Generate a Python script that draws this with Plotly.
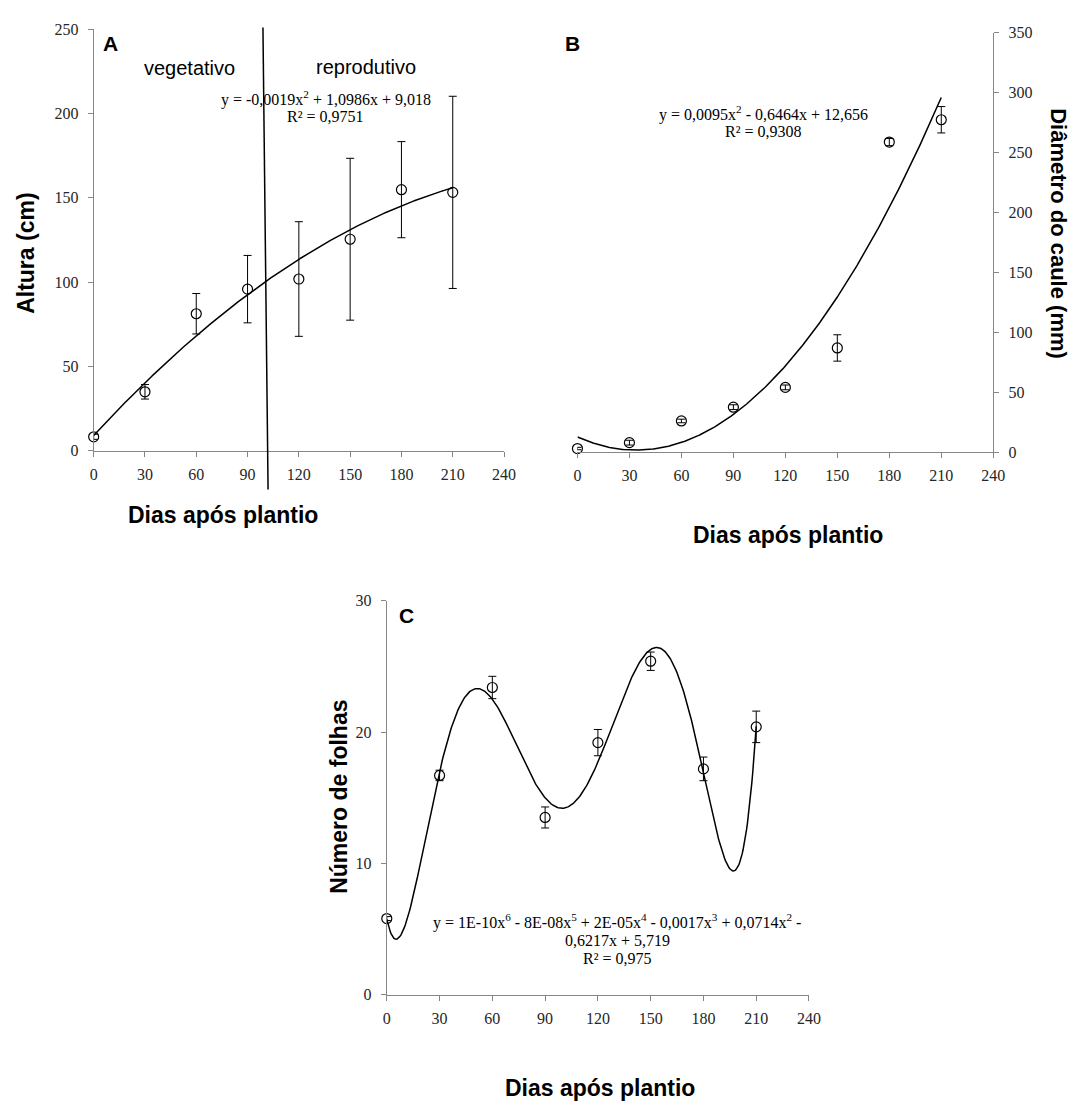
import numpy as np
import plotly.graph_objects as go

# ---------------- data ----------------
dias = [0, 30, 60, 90, 120, 150, 180, 210]
x_ticks = [0, 30, 60, 90, 120, 150, 180, 210, 240]

altura = [8.2, 34.9, 81.2, 95.8, 101.8, 125.4, 154.8, 153.2]
altura_err = [1.5, 4.3, 12.0, 20.0, 34.0, 48.0, 28.5, 57.0]

diametro = [3.0, 7.9, 26.0, 37.5, 54.0, 86.9, 258.7, 277.3]
diametro_err = [1.0, 2.0, 1.5, 2.0, 2.0, 11.0, 3.0, 11.0]

folhas = [5.8, 16.7, 23.4, 13.5, 19.2, 25.4, 17.2, 20.4]
folhas_err = [0.15, 0.4, 0.85, 0.8, 1.0, 0.7, 0.9, 1.2]

coef_altura = [-0.0019, 1.0986, 9.018]
coef_diametro = [0.0095, -0.6464, 12.656]

eq_altura = ["y = -0,0019x<sup>2</sup> + 1,0986x + 9,018", "R² = 0,9751"]
eq_diametro = ["y = 0,0095x<sup>2</sup> - 0,6464x + 12,656", "R² = 0,9308"]
eq_folhas = ["y = 1E-10x<sup>6</sup> - 8E-08x<sup>5</sup> + 2E-05x<sup>4</sup> - 0,0017x<sup>3</sup> + 0,0714x<sup>2</sup> -",
             "0,6217x + 5,719", "R² = 0,975"]

# ---------------- layout geometry (pixels) ----------------
W, H = 1089, 1115
A_X, A_Y = (91, 507.5), (449.5, 21.5)
B_X, B_Y = (582, 1004), (451, 25)
C_X, C_Y = (388.5, 817), (1002, 602)


def fx(p):
    return p / W


def fy(p):
    return 1 - p / H


def dom_x(r):
    return [fx(r[0]), fx(r[1])]


def dom_y(r):
    return [fy(r[0]), fy(r[1])]


SERIF = "Liberation Serif, Times New Roman, serif"
SANS = "Liberation Sans, Arial, sans-serif"
AXC = "#868686"

fig = go.Figure()


def err(vals):
    return dict(type="data", array=vals, visible=True, color="black", thickness=1, width=4)


mk = dict(symbol="circle-open", size=10, color="black", line=dict(width=1.2, color="black"))

xd = np.linspace(0, 210, 421)

# Panel A
fig.add_trace(go.Scatter(x=xd, y=np.polyval(coef_altura, xd), mode="lines",
                         line=dict(color="black", width=1.5), xaxis="x", yaxis="y",
                         showlegend=False, hoverinfo="skip"))
fig.add_trace(go.Scatter(x=dias, y=altura, mode="markers", marker=mk, error_y=err(altura_err),
                         xaxis="x", yaxis="y", cliponaxis=False, showlegend=False))

# Panel B
fig.add_trace(go.Scatter(x=xd, y=np.polyval(coef_diametro, xd), mode="lines",
                         line=dict(color="black", width=1.5), xaxis="x2", yaxis="y2",
                         showlegend=False, hoverinfo="skip"))
fig.add_trace(go.Scatter(x=dias, y=diametro, mode="markers", marker=mk, error_y=err(diametro_err),
                         xaxis="x2", yaxis="y2", cliponaxis=False, showlegend=False))

# Panel C (6th degree polynomial trend fitted to the data)
polyC = np.polynomial.Polynomial.fit(dias, folhas, 6)
fig.add_trace(go.Scatter(x=xd, y=polyC(xd), mode="lines",
                         line=dict(color="black", width=1.5), xaxis="x3", yaxis="y3",
                         showlegend=False, hoverinfo="skip", cliponaxis=False))
fig.add_trace(go.Scatter(x=dias, y=folhas, mode="markers", marker=mk, error_y=err(folhas_err),
                         xaxis="x3", yaxis="y3", cliponaxis=False, showlegend=False))

common = dict(showgrid=False, zeroline=False, showline=True, linecolor=AXC, linewidth=1,
              ticks="outside", ticklen=5, tickcolor=AXC, tickwidth=1,
              tickfont=dict(family=SERIF, size=16, color="#262626"))
xcommon = dict(common, range=[0, 240], tickvals=x_ticks, ticklabelstandoff=4)

fig.update_layout(
    width=W, height=H, margin=dict(l=0, r=0, t=0, b=0),
    paper_bgcolor="white", plot_bgcolor="white", showlegend=False,
    xaxis=dict(xcommon, domain=dom_x(A_X), anchor="y"),
    yaxis=dict(common, domain=dom_y(A_Y), anchor="x", range=[0, 250], dtick=50, ticklabelstandoff=6),
    xaxis2=dict(xcommon, domain=dom_x(B_X), anchor="y2"),
    yaxis2=dict(common, domain=dom_y(B_Y), anchor="x2", side="right", range=[0, 350], dtick=50,
                ticklabelstandoff=6),
    xaxis3=dict(xcommon, domain=dom_x(C_X), anchor="y3"),
    yaxis3=dict(common, domain=dom_y(C_Y), anchor="x3", range=[0, 30], dtick=10, ticklabelstandoff=6),
)

# divider between vegetative and reproductive phases (panel A), in data units
div_x = [99, 102]
div_y = [251, -23]


def a_px(x):
    return A_X[0] + x / 240 * (A_X[1] - A_X[0])


def a_py(y):
    return A_Y[0] - y / 250 * (A_Y[0] - A_Y[1])


fig.add_shape(type="line", xref="paper", yref="paper",
              x0=fx(a_px(div_x[0])), y0=fy(a_py(div_y[0])),
              x1=fx(a_px(div_x[1])), y1=fy(a_py(div_y[1])),
              line=dict(color="black", width=1.5))

ann = []


def text(x, y, s, size, family, bold=False, angle=0, color="black"):
    ann.append(dict(x=fx(x), y=fy(y), xref="paper", yref="paper", text=("<b>%s</b>" % s) if bold else s,
                    showarrow=False, xanchor="center", yanchor="middle", textangle=angle,
                    font=dict(size=size, family=family, color=color)))


# panel letters
text(108, 36, "A", 21, SANS, bold=True)
text(577, 36, "B", 21, SANS, bold=True)
text(408, 617, "C", 21, SANS, bold=True)

# phases
text(188, 61, "vegetativo", 20, SANS)
text(367, 60, "reprodutivo", 20, SANS)

# equations
text(327, 92, eq_altura[0], 16, SERIF)
text(326, 110, eq_altura[1], 16, SERIF)
text(771, 107, eq_diametro[0], 16, SERIF)
text(771, 125, eq_diametro[1], 16, SERIF)
text(622, 928, eq_folhas[0], 16, SERIF)
text(623, 947, eq_folhas[1], 16, SERIF)
text(623, 965, eq_folhas[2], 16, SERIF)

# axis titles
text(23, 249, "Altura (cm)", 23, SANS, bold=True, angle=-90)
text(222, 515, "Dias após plantio", 23, SANS, bold=True)
text(1070, 229, "Diâmetro do caule (mm)", 22, SANS, bold=True, angle=90)
text(796, 535, "Dias após plantio", 23, SANS, bold=True)
text(340, 801, "Número de folhas", 23, SANS, bold=True, angle=-90)
text(605, 1097, "Dias após plantio", 23, SANS, bold=True)

fig.update_layout(annotations=ann)

fig.write_html("out.html")
